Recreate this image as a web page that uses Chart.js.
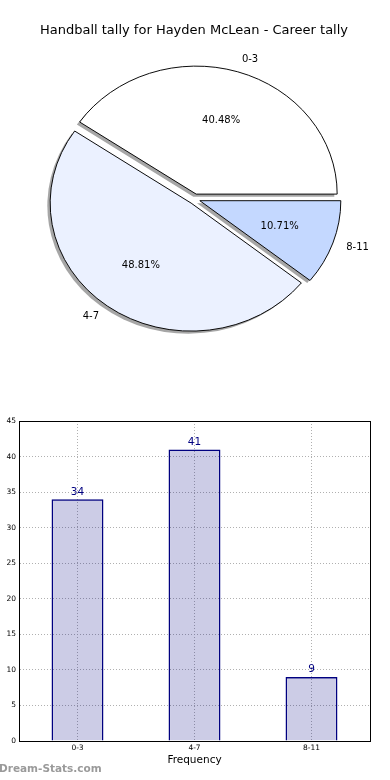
<!DOCTYPE html>
<html>
<head>
<meta charset="utf-8">
<script src="https://cdn.jsdelivr.net/npm/chart.js@4.4.0/dist/chart.umd.min.js"></script>
<style>
  html, body { margin: 0; padding: 0; background: #fff; }
  #wrap { position: relative; width: 390px; height: 780px; overflow: hidden; }
  #pieBox { position: absolute; left: 0; top: 0; }
  #barBox { position: absolute; left: 0; top: 390px; }
  #title { position: absolute; left: 0; width: 388px; top: 22px; text-align: center; font: 13px 'DejaVu Sans', sans-serif; line-height: 16px; color: #000; white-space: nowrap; }
  #mark { position: absolute; left: -1px; top: 762px; font: bold 10.5px 'DejaVu Sans', sans-serif; color: #9a9a9a; white-space: nowrap; }
</style>
</head>
<body>
<div id="wrap">
  <div id="pieBox"><canvas id="pieChart" width="390" height="390"></canvas></div>
  <div id="barBox"><canvas id="barChart" width="390" height="390"></canvas></div>
  <div id="title"></div>
  <div id="mark">Dream-Stats.com</div>
</div>
<script>
// data
const chartTitle = 'Handball tally for Hayden McLean - Career tally'
const categories = ['0-3', '4-7', '8-11']
const tallies = [34, 41, 9]
const sliceColors = ['#ffffff', '#ebf1ff', '#c4d8ff']
const yMin = 0
const yMax = 45
const yStep = 5
const xTitle = 'Frequency'

// pie look (matplotlib style: squashed circle, exploded wedges, drop shadow)
const PIE_ASPECT = 128 / 141
const EXPLODE = 0.04
const SHADOW = 0.02

Chart.defaults.font.family = "'DejaVu Sans', sans-serif"
Chart.defaults.color = '#000'

document.getElementById('title').textContent = chartTitle

// matplotlib goes counter-clockwise from 3 o'clock, chart.js clockwise,
// so feed the slices reversed and start at 3 o'clock
const pieLabels = categories.slice().reverse()
const pieValues = tallies.slice().reverse()
const pieColors = sliceColors.slice().reverse()

const midAngle = arc => (arc.startAngle + arc.endAngle) / 2

// draws shadows + exploded wedges inside a vertically squashed context
const pieExplode = {
  id: 'pieExplode',
  beforeDatasetDraw(chart, args) {
    const ctx = chart.ctx
    const arcs = args.meta.data
    const x = arcs[0].x
    const y = arcs[0].y
    ctx.save()
    ctx.translate(x, y)
    ctx.scale(1, PIE_ASPECT)
    ctx.translate(-x, -y)

    // shadows go under all wedges
    arcs.forEach(arc => {
      const r = arc.outerRadius
      const mid = midAngle(arc)
      const cx = x + Math.cos(mid) * EXPLODE * r - SHADOW * r
      const cy = y + Math.sin(mid) * EXPLODE * r + SHADOW * r
      ctx.beginPath()
      ctx.moveTo(cx, cy)
      ctx.arc(cx, cy, r, arc.startAngle, arc.endAngle)
      ctx.closePath()
      ctx.fillStyle = 'rgba(77,77,77,0.5)'
      ctx.fill()
    })

    arcs.forEach(arc => {
      const r = arc.outerRadius
      const mid = midAngle(arc)
      ctx.save()
      ctx.translate(Math.cos(mid) * EXPLODE * r, Math.sin(mid) * EXPLODE * r)
      arc.draw(ctx)
      ctx.restore()
    })

    ctx.restore()
    return false
  },
  afterDatasetsDraw(chart) {
    const ctx = chart.ctx
    const meta = chart.getDatasetMeta(0)
    const values = chart.data.datasets[0].data
    const total = values.reduce((a, b) => a + b, 0)
    ctx.save()
    ctx.font = "10px 'DejaVu Sans', sans-serif"
    ctx.fillStyle = '#000'
    ctx.textBaseline = 'middle'
    meta.data.forEach((arc, i) => {
      const r = arc.outerRadius
      const mid = midAngle(arc)
      const cos = Math.cos(mid)
      const sin = Math.sin(mid)
      const ex = arc.x + cos * EXPLODE * r
      const ey = arc.y + sin * EXPLODE * r * PIE_ASPECT

      // category label outside
      ctx.textAlign = cos > 0 ? 'left' : 'right'
      ctx.fillText(chart.data.labels[i], ex + cos * 1.1 * r, ey + sin * 1.1 * r * PIE_ASPECT)

      // percentage inside
      ctx.textAlign = 'center'
      const pct = (values[i] / total * 100).toFixed(2) + '%'
      ctx.fillText(pct, ex + cos * 0.6 * r, ey + sin * 0.6 * r * PIE_ASPECT)
    })
    ctx.restore()
  }
}

// init pie
new Chart(document.getElementById('pieChart'), {
  type: 'pie',
  data: {
    labels: pieLabels,
    datasets: [{
      data: pieValues,
      backgroundColor: pieColors,
      borderColor: '#000',
      borderWidth: 1
    }]
  },
  options: {
    responsive: false,
    animation: false,
    devicePixelRatio: 1,
    rotation: 90,
    layout: { padding: { left: 53, right: 54, top: 57.5, bottom: 49.5 } },
    plugins: {
      legend: { display: false },
      tooltip: { enabled: false },
      title: { display: false }
    }
  },
  plugins: [pieExplode]
})

// full box around the bar axes
const frameBox = {
  id: 'frameBox',
  afterDatasetsDraw(chart) {
    const { ctx, chartArea } = chart
    ctx.save()
    ctx.strokeStyle = '#000'
    ctx.lineWidth = 1
    ctx.strokeRect(Math.round(chartArea.left) + 0.5, Math.round(chartArea.top) + 0.5,
        Math.round(chartArea.right - chartArea.left), Math.round(chartArea.bottom - chartArea.top))
    ctx.restore()
  }
}

// value above each bar
const barValues = {
  id: 'barValues',
  afterDatasetsDraw(chart) {
    const ctx = chart.ctx
    const meta = chart.getDatasetMeta(0)
    const values = chart.data.datasets[0].data
    ctx.save()
    ctx.font = "10.5px 'DejaVu Sans', sans-serif"
    ctx.fillStyle = '#000080'
    ctx.textAlign = 'center'
    ctx.textBaseline = 'bottom'
    meta.data.forEach((bar, i) => {
      ctx.fillText(String(values[i]), bar.x, bar.y - 2)
    })
    ctx.restore()
  }
}

const gridStyle = { color: '#b0b0b0', lineWidth: 1, drawTicks: false }
const tickFont = { size: 7.5 }

// init bars
new Chart(document.getElementById('barChart'), {
  type: 'bar',
  data: {
    labels: categories,
    datasets: [{
      data: tallies,
      backgroundColor: 'rgba(0,0,128,0.2)',
      borderColor: '#000080',
      borderWidth: 1.5,
      barPercentage: 0.444,
      categoryPercentage: 1
    }]
  },
  options: {
    responsive: false,
    animation: false,
    devicePixelRatio: 1,
    layout: { padding: { top: 31, right: 20, left: 0, bottom: 0 } },
    plugins: {
      legend: { display: false },
      tooltip: { enabled: false }
    },
    scales: {
      x: {
        grid: Object.assign({ offset: false }, gridStyle),
        border: { dash: [1, 2], color: '#000', width: 1 },
        ticks: { font: tickFont, color: '#000', padding: 3 },
        title: {
          display: true,
          text: xTitle,
          font: { size: 10.5 },
          color: '#000',
          padding: { top: 0, bottom: 13 }
        },
        afterFit(scale) { scale.height = 39 }
      },
      y: {
        min: yMin,
        max: yMax,
        grid: gridStyle,
        border: { dash: [1, 2], color: '#000', width: 1 },
        ticks: { stepSize: yStep, font: tickFont, color: '#000', padding: 3 },
        afterFit(scale) { scale.width = 19 }
      }
    }
  },
  plugins: [frameBox, barValues]
})
</script>
</body>
</html>
